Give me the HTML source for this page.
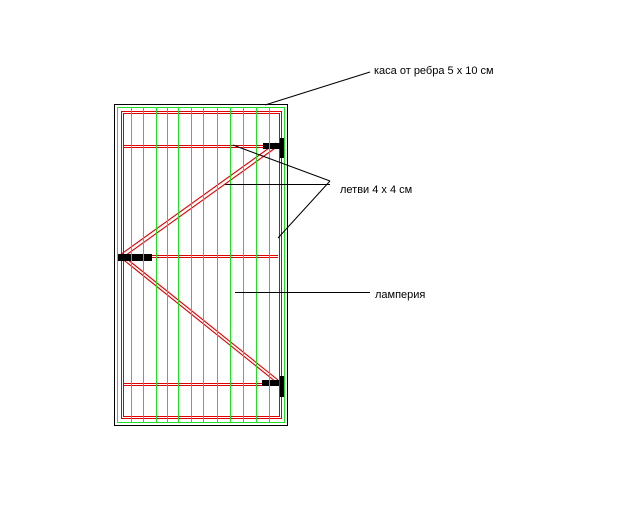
<!DOCTYPE html>
<html><head><style>body{margin:0;background:#fff}
.r{position:absolute;background:#e00000}
</style></head><body>
<svg width="640" height="512" xmlns="http://www.w3.org/2000/svg" style="display:block">
<rect x="0" y="0" width="640" height="512" fill="#fff"/>
<g fill="#000">
<rect x="114" y="104" width="174" height="1"/><rect x="114" y="425" width="174" height="1"/>
<rect x="114" y="104" width="1" height="322"/><rect x="287" y="104" width="1" height="322"/>
</g>
<g fill="#22dd22">
<rect x="117" y="107" width="168" height="1"/><rect x="117" y="422" width="168" height="1"/>
<rect x="117" y="107" width="1" height="316"/><rect x="284" y="107" width="1" height="316"/>
</g>
<g fill="#e00000">
<rect x="121" y="111" width="161" height="1"/><rect x="121" y="418" width="161" height="1"/>
<rect x="121" y="111" width="1" height="308"/><rect x="281" y="111" width="1" height="308"/>
<rect x="123" y="113" width="157" height="1"/><rect x="123" y="416" width="157" height="1"/>
<rect x="123" y="113" width="1" height="304"/><rect x="279" y="113" width="1" height="304"/>
<rect x="124" y="145" width="154" height="1"/><rect x="124" y="147" width="154" height="1"/>
<rect x="124" y="255" width="154" height="1"/><rect x="124" y="257" width="154" height="1"/>
<rect x="124" y="383" width="154" height="1"/><rect x="124" y="385" width="154" height="1"/>
</g>
<g stroke="#e00000" fill="none" stroke-width="1.1">
<path d="M276 143L120 255M278 146L122 258M120 257L276 382M122 255L278 380"/>
</g>
<g fill="#22dd22">
<rect x="131" y="108" width="1" height="314"/><rect x="143" y="108" width="1" height="314"/>
<rect x="156" y="108" width="1" height="314"/><rect x="167" y="108" width="1" height="314"/>
<rect x="178" y="108" width="1" height="314"/><rect x="191" y="108" width="1" height="314"/>
<rect x="203" y="108" width="1" height="314"/><rect x="217" y="108" width="1" height="314"/>
<rect x="230" y="108" width="1" height="314"/><rect x="243" y="108" width="1" height="314"/>
<rect x="256" y="108" width="1" height="314"/><rect x="269" y="108" width="1" height="314"/>
</g>
<g fill="#000">
<rect x="280" y="138" width="4" height="20"/>
<rect x="263" y="143" width="17" height="6"/>
<rect x="280" y="376" width="4" height="21"/>
<rect x="262" y="380" width="17" height="6"/>
<rect x="118" y="254" width="34" height="7"/>
</g>
<g fill="#22dd22"><rect x="131" y="254" width="1" height="7"/><rect x="143" y="254" width="1" height="7"/><rect x="269" y="143" width="1" height="6"/><rect x="269" y="380" width="1" height="6"/></g>
<g stroke="#000" fill="none">
<path d="M265 105L370 72"/>
<path d="M233 145L330 181M225 184.5H330M278 238L330 181"/>
<path d="M235 292.5H370"/>
</g>
<g font-family="Liberation Sans, DejaVu Sans, sans-serif" font-size="11" fill="#000">
<text x="374" y="74">каса от ребра 5 х 10 см</text>
<text x="340" y="193">летви 4 х 4 см</text>
<text x="375" y="298">ламперия</text>
</g>
</svg>
</body></html>
